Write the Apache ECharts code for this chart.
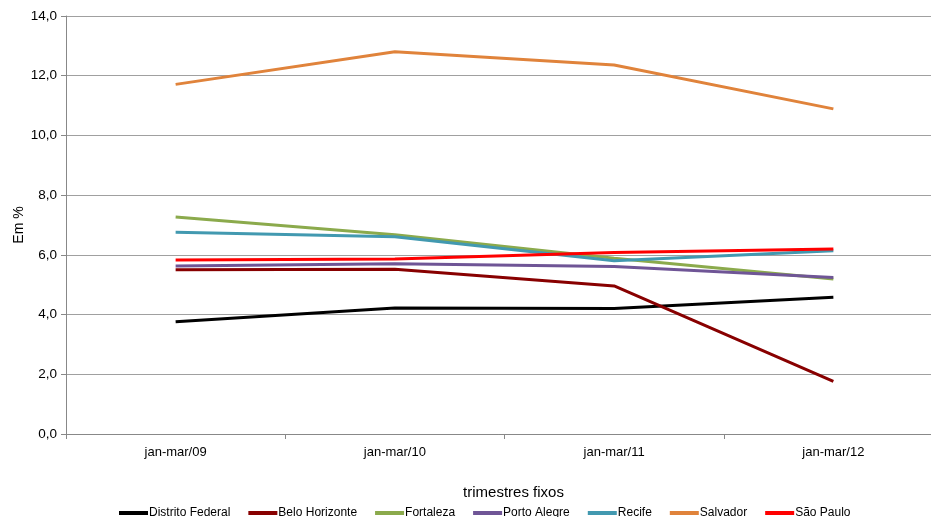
<!DOCTYPE html>
<html>
<head>
<meta charset="utf-8">
<script src="https://cdn.jsdelivr.net/npm/echarts@6/dist/echarts.min.js"></script>
<style>
  html, body { margin: 0; padding: 0; background: #fff; }
  #chart { width: 931px; height: 517px; }
</style>
</head>
<body>
<div id="chart"></div>
<script>
// Quarterly rates (%) by metropolitan region
const quarters = ['jan-mar/09', 'jan-mar/10', 'jan-mar/11', 'jan-mar/12'];

const distritoFederal = [3.76, 4.22, 4.20, 4.58];
const beloHorizonte   = [5.50, 5.52, 4.96, 1.76];
const fortaleza       = [7.27, 6.67, 5.89, 5.19];
const portoAlegre     = [5.63, 5.70, 5.61, 5.24];
const recife          = [6.76, 6.61, 5.80, 6.14];
const salvador        = [11.71, 12.80, 12.36, 10.89];
const saoPaulo        = [5.83, 5.86, 6.08, 6.20];

const seriesDefs = [
  { name: 'Distrito Federal', data: distritoFederal, color: '#000000' },
  { name: 'Belo Horizonte',   data: beloHorizonte,   color: '#880000' },
  { name: 'Fortaleza',        data: fortaleza,       color: '#8BAA4C' },
  { name: 'Porto Alegre',     data: portoAlegre,     color: '#6F5596' },
  { name: 'Recife',           data: recife,          color: '#4299B0' },
  { name: 'Salvador',         data: salvador,        color: '#E0833B' },
  { name: 'São Paulo',        data: saoPaulo,        color: '#FF0000' }
];

const font = "'Liberation Sans', 'Noto Sans', sans-serif";

const chart = echarts.init(document.getElementById('chart'), null, { renderer: 'canvas' });

chart.setOption({
  animation: false,
  backgroundColor: '#ffffff',
  // plot area runs slightly past the right edge of the canvas
  grid: {
    left: 66, top: 16, width: 877, height: 418,
    containLabel: false, outerBoundsMode: 'none'
  },
  legend: {
    top: 507,
    left: 119,
    padding: 0,
    itemWidth: 29,
    itemHeight: 4,
    itemGap: 18,
    icon: 'rect',
    textStyle: { fontFamily: font, fontSize: 12, color: '#000', padding: [0, 0, 0, -4] },
    data: seriesDefs.map(s => s.name)
  },
  xAxis: {
    type: 'category',
    data: quarters,
    boundaryGap: true,
    name: 'trimestres fixos',
    nameLocation: 'middle',
    nameGap: 51,
    nameTextStyle: { fontFamily: font, fontSize: 15, color: '#000', padding: [0, 0, 0, 18] },
    axisLine: { lineStyle: { color: '#888888', width: 1 } },
    axisTick: { show: true, length: 5, lineStyle: { color: '#888888' } },
    axisLabel: { fontFamily: font, fontSize: 13, color: '#000', margin: 12 },
    splitLine: { show: false }
  },
  yAxis: {
    type: 'value',
    min: 0,
    max: 14,
    interval: 2,
    name: 'Em %',
    nameLocation: 'middle',
    nameRotate: 90,
    nameGap: 34,
    nameMoveOverlap: false,
    nameTextStyle: { fontFamily: font, fontSize: 14, color: '#000', padding: [0, 0, 6, 0] },
    axisLine: { show: true, lineStyle: { color: '#888888', width: 1 } },
    axisTick: { show: true, length: 5, lineStyle: { color: '#888888' } },
    axisLabel: {
      fontFamily: font, fontSize: 13.5, color: '#000', margin: 9,
      formatter: v => v.toFixed(1).replace('.', ',')
    },
    splitLine: { show: true, lineStyle: { color: '#a0a0a0', width: 1 } }
  },
  series: seriesDefs.map(s => ({
    name: s.name,
    type: 'line',
    data: s.data,
    symbol: 'none',
    color: s.color,
    lineStyle: { color: s.color, width: 3 },
    itemStyle: { color: s.color }
  }))
});
</script>
</body>
</html>
